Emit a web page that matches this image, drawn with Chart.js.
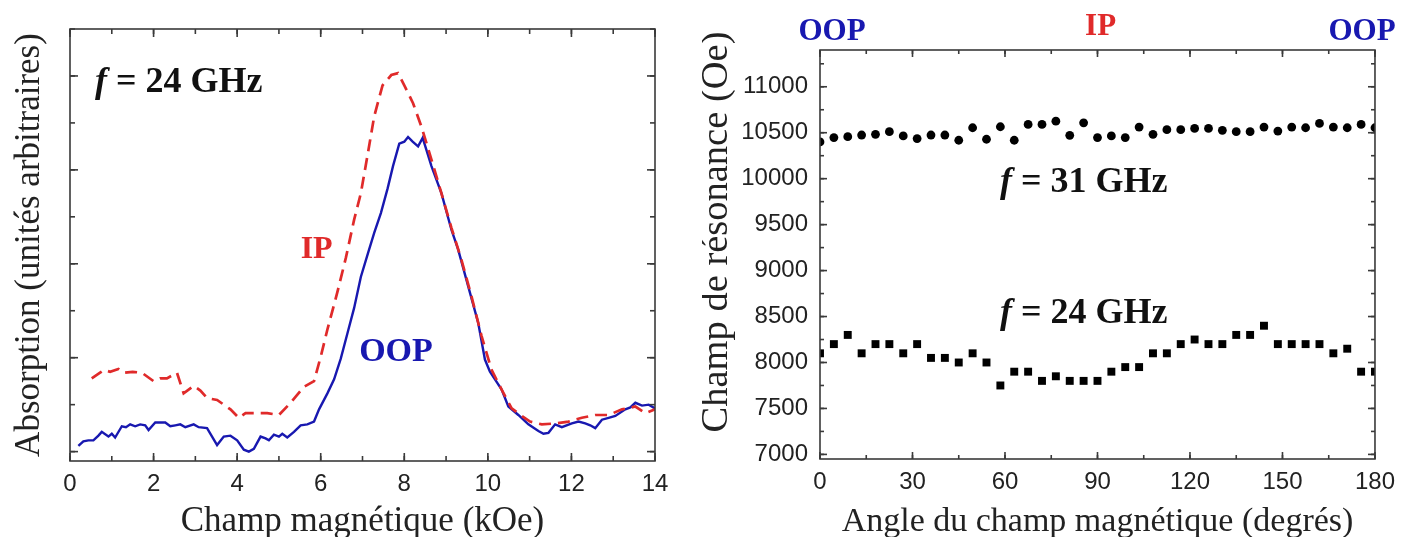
<!DOCTYPE html>
<html>
<head>
<meta charset="utf-8">
<script src="https://cdn.jsdelivr.net/npm/chart.js@4/dist/chart.umd.min.js"></script>
<style>
  html, body { margin: 0; padding: 0; background: #fff; overflow: hidden; }
  #wrap { position: relative; width: 1404px; height: 537px; }
  canvas { position: absolute; top: 0; }
  #absChart { left: 0; }
  #resChart { left: 702px; }
</style>
</head>
<body>
<div id="wrap">
  <canvas id="absChart" width="702" height="537"></canvas>
  <canvas id="resChart" width="702" height="537"></canvas>
</div>
<script>
// ---- Absorption spectra at f = 24 GHz (field in kOe, absorption in arbitrary units) ----
const oopField = [0.20, 0.32, 0.44, 0.56, 0.68, 0.76, 0.92, 1.00, 1.08, 1.24, 1.34, 1.44, 1.56, 1.68, 1.80, 1.88,
  2.04, 2.28, 2.40, 2.52, 2.64, 2.76, 2.96, 3.08, 3.28, 3.40, 3.52, 3.68, 3.84, 4.00, 4.16, 4.28, 4.40, 4.56,
  4.68, 4.76, 4.88, 5.00, 5.08, 5.20, 5.36, 5.52, 5.68, 5.84, 5.96, 6.16, 6.32, 6.48, 6.64, 6.80, 6.96, 7.13,
  7.28, 7.44, 7.60, 7.73, 7.88, 8.00, 8.09, 8.20, 8.33, 8.44, 8.65, 8.89, 9.13, 9.29, 9.53, 9.77, 9.93, 10.05,
  10.17, 10.33, 10.49, 10.73, 10.97, 11.21, 11.33, 11.45, 11.61, 11.77, 12.01, 12.17, 12.33, 12.45, 12.57,
  12.73, 12.89, 13.05, 13.29, 13.41, 13.53, 13.69, 13.85, 14.00];
const oopAbs = [0.06, 0.11, 0.12, 0.12, 0.17, 0.21, 0.16, 0.19, 0.15, 0.27, 0.26, 0.29, 0.27, 0.29, 0.28, 0.23,
  0.31, 0.31, 0.27, 0.28, 0.29, 0.26, 0.29, 0.26, 0.25, 0.16, 0.07, 0.16, 0.17, 0.12, 0.02, 0.00, 0.03, 0.16,
  0.14, 0.12, 0.18, 0.16, 0.19, 0.15, 0.21, 0.28, 0.29, 0.32, 0.45, 0.62, 0.77, 0.99, 1.26, 1.53, 1.86, 2.11,
  2.33, 2.54, 2.80, 3.04, 3.28, 3.30, 3.35, 3.30, 3.25, 3.34, 3.04, 2.75, 2.36, 2.15, 1.76, 1.37, 0.98, 0.85,
  0.77, 0.66, 0.48, 0.39, 0.29, 0.22, 0.19, 0.20, 0.29, 0.26, 0.30, 0.32, 0.30, 0.28, 0.25,
  0.34, 0.36, 0.38, 0.45, 0.47, 0.52, 0.49, 0.50, 0.46];

const ipField = [0.52, 0.72, 0.82, 0.96, 1.16, 1.28, 1.50, 1.72, 2.00, 2.16, 2.32, 2.56, 2.72, 2.96, 3.12, 3.28,
  3.52, 3.84, 4.04, 4.20, 4.40, 4.72, 5.00, 5.28, 5.60, 5.84, 6.00, 6.16, 6.40, 6.60, 6.80, 6.96, 7.13, 7.28,
  7.48, 7.69, 7.85, 8.00, 8.21, 8.41, 8.65, 8.89, 9.13, 9.37, 9.61, 9.85, 10.09, 10.33, 10.57, 10.81, 11.01,
  11.29, 11.61, 11.93, 12.25, 12.57, 12.89, 13.21, 13.53, 13.77, 14.00];
const ipAbs = [0.78, 0.84, 0.87, 0.85, 0.88, 0.84, 0.85, 0.84, 0.75, 0.78, 0.78, 0.84, 0.62, 0.70, 0.65, 0.57,
  0.55, 0.45, 0.36, 0.41, 0.41, 0.41, 0.39, 0.52, 0.69, 0.75, 1.01, 1.30, 1.70, 2.06, 2.47, 2.75, 3.18, 3.57,
  3.90, 4.01, 4.03, 3.90, 3.71, 3.46, 3.11, 2.75, 2.38, 2.04, 1.65, 1.23, 0.87, 0.66, 0.46, 0.38, 0.32,
  0.29, 0.30, 0.32, 0.36, 0.39, 0.39, 0.45, 0.48, 0.41, 0.45];

const fieldTicks = [0, 2, 4, 6, 8, 10, 12, 14];

// ---- Resonance field versus field angle ----
const angles = [0, 4.5, 9, 13.5, 18, 22.5, 27, 31.5, 36, 40.5, 45, 49.5, 54, 58.5, 63, 67.5, 72, 76.5, 81, 85.5,
  90, 94.5, 99, 103.5, 108, 112.5, 117, 121.5, 126, 130.5, 135, 139.5, 144, 148.5, 153, 157.5, 162, 166.5,
  171, 175.5, 180];
const res31GHz = [10400, 10447, 10457, 10475, 10482, 10511, 10465, 10436, 10475, 10475, 10418, 10554, 10429,
  10565, 10418, 10590, 10590, 10626, 10472, 10608, 10447, 10465, 10447, 10561, 10482, 10533, 10533, 10547,
  10547, 10526, 10511, 10511, 10561, 10518, 10561, 10554, 10601, 10561, 10554, 10590, 10554];
const res24GHz = [8100, 8200, 8300, 8100, 8200, 8200, 8100, 8200, 8050, 8050, 8000, 8100, 8000, 7750, 7900,
  7900, 7800, 7850, 7800, 7800, 7800, 7900, 7950, 7950, 8100, 8100, 8200, 8250, 8200, 8200, 8300, 8300,
  8400, 8200, 8200, 8200, 8200, 8100, 8150, 7900, 7900];

const angleTicks = [0, 30, 60, 90, 120, 150, 180];
const fieldResTicks = [7000, 7500, 8000, 8500, 9000, 9500, 10000, 10500, 11000];

// ---- helpers ----
const SERIF = "'Liberation Serif', 'Times New Roman', serif";
const SANS = "'Liberation Sans', Arial, sans-serif";
const BLUE = '#1818b0';
const RED = '#e02a2a';
const INK = '#222222';

const zip = (xs, ys) => xs.map((x, i) => ({ x, y: ys[i] }));

// Closed frame with inward ticks on all four sides (major and minor)
const framePlugin = {
  id: 'frame',
  afterDatasetsDraw(chart, args, o) {
    const { ctx, chartArea: a, scales: { x, y } } = chart;
    ctx.save();
    ctx.strokeStyle = o.color;
    ctx.lineWidth = o.width;
    const seg = (x1, y1, x2, y2) => { ctx.beginPath(); ctx.moveTo(x1, y1); ctx.lineTo(x2, y2); ctx.stroke(); };
    const each = (scale, step, fn) => {
      const i0 = Math.ceil(scale.min / step - 1e-9), i1 = Math.floor(scale.max / step + 1e-9);
      for (let i = i0; i <= i1; i++) fn(scale.getPixelForValue(i * step));
    };
    [[o.xMinor, o.minorLen], [o.xMajor, o.majorLen]].forEach(([st, len]) =>
      each(x, st, px => { seg(px, a.bottom, px, a.bottom - len); seg(px, a.top, px, a.top + len); }));
    [[o.yMinor, o.minorLen], [o.yMajor, o.majorLen]].forEach(([st, len]) =>
      each(y, st, py => { seg(a.left, py, a.left + len, py); seg(a.right, py, a.right - len, py); }));
    ctx.strokeRect(a.left, a.top, a.right - a.left, a.bottom - a.top);
    ctx.restore();
  }
};

// Text labels placed at data coordinates; parts allow an italic "f"
const labelPlugin = {
  id: 'labels',
  afterDraw(chart, args, o) {
    const { ctx, scales: { x, y } } = chart;
    ctx.save();
    ctx.textBaseline = 'alphabetic';
    (o.items || []).forEach(it => {
      const parts = it.parts;
      const fontOf = p => `${p.italic ? 'italic ' : ''}bold ${it.size}px ${SERIF}`;
      let total = 0;
      parts.forEach(p => { ctx.font = fontOf(p); total += ctx.measureText(p.t).width; });
      let px = x.getPixelForValue(it.x);
      if (it.align === 'center') px -= total / 2;
      const py = y.getPixelForValue(it.y);
      ctx.fillStyle = it.color;
      parts.forEach(p => { ctx.font = fontOf(p); ctx.fillText(p.t, px, py); px += ctx.measureText(p.t).width; });
    });
    // rotated side title, centred on a value of the y scale
    if (o.sideTitle) {
      const t = o.sideTitle;
      ctx.translate(t.x, y.getPixelForValue(t.yCenter));
      ctx.rotate(-Math.PI / 2);
      ctx.font = `${t.size}px ${SERIF}`;
      ctx.fillStyle = t.color;
      ctx.textAlign = 'center';
      ctx.textBaseline = 'middle';
      ctx.fillText(t.text, 0, 0);
    }
    ctx.restore();
  }
};

Chart.register(framePlugin, labelPlugin);

// Labelled ticks come straight from the tick arrays, printed without grouping separators
const useTicks = list => scale => { scale.ticks = list.map(v => ({ value: v })); };
const plain = v => String(v);

// ---- Left: absorption spectra ----
new Chart(document.getElementById('absChart'), {
  type: 'scatter',
  data: {
    datasets: [
      { label: 'IP', data: zip(ipField, ipAbs), showLine: true, borderColor: RED, borderWidth: 2.7,
        borderDash: [12, 7], pointRadius: 0, tension: 0 },
      { label: 'OOP', data: zip(oopField, oopAbs), showLine: true, borderColor: BLUE, borderWidth: 2.4,
        pointRadius: 0, tension: 0 }
    ]
  },
  options: {
    responsive: false, animation: false, devicePixelRatio: 1,
    layout: { padding: { top: 29, right: 47, left: 0, bottom: 0 } },
    plugins: {
      legend: { display: false }, tooltip: { enabled: false },
      frame: { color: '#3a3a3a', width: 1.6, xMajor: 2, xMinor: 1, yMajor: 1, yMinor: 0.5, majorLen: 8, minorLen: 5 },
      labels: { items: [
        { parts: [{ t: 'f', italic: true }, { t: ' = 24 GHz' }], x: 0.6, y: 3.83, size: 36, color: '#111' },
        { parts: [{ t: 'IP' }], x: 5.52, y: 2.06, size: 32, color: RED },
        { parts: [{ t: 'OOP' }], x: 6.92, y: 0.96, size: 34, color: BLUE }
      ] }
    },
    scales: {
      x: {
        type: 'linear', min: 0, max: 14,
        afterFit: s => { s.height = 76; },
        afterBuildTicks: useTicks(fieldTicks),
        grid: { display: false, drawTicks: false }, border: { display: false },
        ticks: { padding: 9, autoSkip: false, callback: plain, color: INK, font: { family: SANS, size: 24 } },
        title: { display: true, text: 'Champ magnétique (kOe)', color: INK,
          font: { family: SERIF, size: 35, lineHeight: 0.85 }, padding: 0 }
      },
      y: {
        type: 'linear', min: -0.1, max: 4.5,
        afterFit: s => { s.width = 70; },
        grid: { display: false, drawTicks: false }, border: { display: false },
        ticks: { display: false },
        title: { display: true, text: 'Absorption (unités arbitraires)', color: INK,
          font: { family: SERIF, size: 35, lineHeight: 1 }, padding: { top: 12, bottom: 0 } }
      }
    }
  }
});

// ---- Right: resonance field versus angle ----
new Chart(document.getElementById('resChart'), {
  type: 'scatter',
  data: {
    datasets: [
      { label: 'f = 31 GHz', data: zip(angles, res31GHz), pointStyle: 'circle', pointRadius: 4.4,
        backgroundColor: '#000', borderWidth: 0 },
      { label: 'f = 24 GHz', data: zip(angles, res24GHz), pointStyle: 'rect', pointRadius: 5.6,
        backgroundColor: '#000', borderWidth: 0 }
    ]
  },
  options: {
    responsive: false, animation: false, devicePixelRatio: 1,
    layout: { padding: { top: 50, right: 26, left: 0, bottom: 0 } },
    plugins: {
      legend: { display: false }, tooltip: { enabled: false },
      frame: { color: '#3a3a3a', width: 1.6, xMajor: 30, xMinor: 15, yMajor: 500, yMinor: 250, majorLen: 7, minorLen: 4 },
      labels: {
        items: [
          { parts: [{ t: 'f', italic: true }, { t: ' = 31 GHz' }], x: 58.4, y: 9855, size: 36, color: '#111' },
          { parts: [{ t: 'f', italic: true }, { t: ' = 24 GHz' }], x: 58.4, y: 8429, size: 36, color: '#111' },
          { parts: [{ t: 'OOP' }], x: 3.9, y: 11509, size: 31, color: BLUE, align: 'center' },
          { parts: [{ t: 'IP' }], x: 91, y: 11563, size: 31, color: RED, align: 'center' },
          { parts: [{ t: 'OOP' }], x: 175.8, y: 11509, size: 31, color: BLUE, align: 'center' }
        ],
        sideTitle: { text: 'Champ de résonance (Oe)', x: 15, yCenter: 9420, size: 38.5, color: INK }
      }
    },
    scales: {
      x: {
        type: 'linear', min: 0, max: 180,
        afterFit: s => { s.height = 78; },
        afterBuildTicks: useTicks(angleTicks),
        grid: { display: false, drawTicks: false }, border: { display: false },
        ticks: { padding: 9, autoSkip: false, callback: plain, color: INK, font: { family: SANS, size: 24 } },
        title: { display: true, text: 'Angle du champ magnétique (degrés)', color: INK,
          font: { family: SERIF, size: 34, lineHeight: 0.85 }, padding: 0 }
      },
      y: {
        type: 'linear', min: 6950, max: 11400,
        afterFit: s => { s.width = 118; },
        afterBuildTicks: useTicks(fieldResTicks),
        grid: { display: false, drawTicks: false }, border: { display: false },
        ticks: { padding: 12, autoSkip: false, callback: plain, color: INK, font: { family: SANS, size: 24 } },
        title: { display: false }
      }
    }
  }
});
</script>
</body>
</html>
